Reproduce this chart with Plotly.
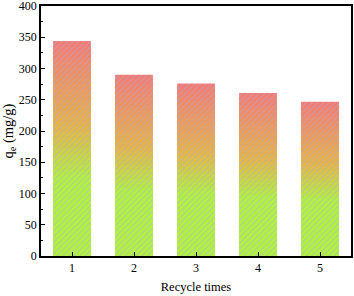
import plotly.graph_objects as go

categories = [1, 2, 3, 4, 5]
qe_values = [344, 290, 276, 261, 247]
y_ticks = [0, 50, 100, 150, 200, 250, 300, 350, 400]

N = 40
top_rgb = (248, 120, 112)
mid_rgb = (234, 180, 64)
bot_rgb = (180, 242, 60)

def color_at(f):
    # f: 0 bottom, 1 top
    if f < 0.36:
        a, b, t = bot_rgb, bot_rgb, 0
    elif f < 0.60:
        a, b, t = bot_rgb, mid_rgb, (f - 0.36) / 0.24
    else:
        a, b, t = mid_rgb, top_rgb, (f - 0.60) / 0.40
    c = [round(a[i] + (b[i] - a[i]) * t) for i in range(3)]
    return f"rgb({c[0]},{c[1]},{c[2]})"

fig = go.Figure()
for k in range(N - 1, -1, -1):
    frac = (k + 1) / N
    col = color_at((k + 0.5) / N)
    fig.add_trace(go.Bar(
        x=categories,
        y=[v * frac for v in qe_values],
        width=0.61,
        marker=dict(
            color=col,
            line=dict(width=0),
            pattern=dict(shape="/", bgcolor=col, fgcolor="rgba(160,175,225,0.45)",
                         size=4, solidity=0.35, fillmode="replace"),
        ),
        hoverinfo="skip",
        showlegend=False,
    ))

FONT = "Liberation Serif"
tf = dict(family=FONT, size=12, color="black")

fig.update_layout(
    barmode="overlay",
    width=354, height=296,
    margin=dict(l=41, r=3, t=6, b=40, autoexpand=False),
    plot_bgcolor="white", paper_bgcolor="white",
    font=dict(family=FONT, size=12, color="black"),
    xaxis=dict(
        range=[0.5, 5.5], tickvals=categories, ticktext=[str(c) for c in categories],
        ticks="inside", ticklen=4, tickwidth=1, tickcolor="black",
        tickfont=tf,
        showline=True, linecolor="black", linewidth=1.5, mirror=True,
        showgrid=False, zeroline=False, automargin=False,
        title=dict(text="Recycle times", standoff=8, font=dict(family=FONT, size=12.5, color="black")),
    ),
    yaxis=dict(
        range=[0, 400], tickvals=y_ticks, ticktext=[str(v) for v in y_ticks],
        ticks="inside", ticklen=4, tickwidth=1, tickcolor="black",
        tickfont=tf, ticklabeloverflow="allow",
        minor=dict(dtick=25, ticks="inside", ticklen=2.5, tickcolor="black", showgrid=False),
        showline=True, linecolor="black", linewidth=1.5, mirror=True,
        showgrid=False, zeroline=False, automargin=False,
        title=dict(text="q<sub>e</sub> (mg/g)", standoff=3, font=dict(family=FONT, size=14.5, color="black")),
    ),
)

fig.write_html("out.html", config={"displayModeBar": False},
               post_script="document.body.style.margin='0';document.body.style.padding='0';")
